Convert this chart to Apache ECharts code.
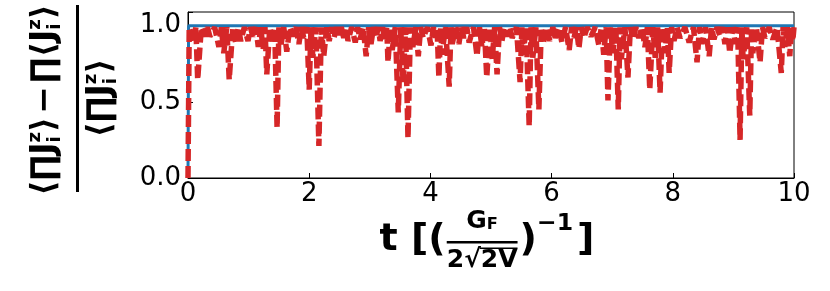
<!DOCTYPE html>
<html><head><meta charset="utf-8">
<script src="https://cdn.jsdelivr.net/npm/echarts@6/dist/echarts.min.js"></script>
<style>html,body{margin:0;padding:0;background:#fff}#c{width:830px;height:291px}</style>
</head><body><div id="c"></div>
<script>
const xTicks = [0, 2, 4, 6, 8, 10];
const yTicks = [0.0, 0.5, 1.0];
const blueCurve = [[0, 0], [0.01, 1.0], [10, 1.0]];
const redCurve = [
 [0,0],[0.02,0.99],[0.10,0.89],[0.13,0.99],[0.16,0.645],[0.22,0.99],[0.28,0.93],[0.32,0.99],[0.36,0.93],[0.44,0.99],
 [0.51,0.86],[0.55,0.99],[0.59,0.82],[0.64,0.99],[0.68,0.645],[0.74,0.99],[0.79,0.88],[0.83,0.99],[0.87,0.90],[0.93,0.99],
 [0.99,0.90],[1.03,0.99],[1.07,0.93],[1.12,0.99],[1.16,0.86],[1.20,0.99],[1.24,0.84],[1.27,0.99],[1.30,0.68],[1.35,0.99],
 [1.39,0.88],[1.43,0.99],[1.47,0.33],[1.50,0.99],[1.53,0.86],[1.58,0.99],[1.63,0.83],[1.68,0.99],[1.73,0.93],[1.78,0.99],
 [1.83,0.88],[1.87,0.99],[1.91,0.92],[1.96,0.99],[2.00,0.58],[2.03,0.99],[2.06,0.79],[2.11,0.99],[2.16,0.21],[2.20,0.99],
 [2.24,0.80],[2.29,0.99],[2.33,0.90],[2.37,0.99],[2.41,0.92],[2.45,0.99],[2.49,0.94],[2.53,0.99],[2.57,0.92],[2.61,0.99],
 [2.64,0.90],[2.70,0.99],[2.76,0.89],[2.80,0.99],[2.84,0.91],[2.89,0.99],[2.94,0.80],[2.98,0.99],[3.02,0.88],[3.06,0.99],
 [3.10,0.92],[3.14,0.99],[3.17,0.90],[3.21,0.99],[3.25,0.90],[3.28,0.99],[3.30,0.76],[3.34,0.99],[3.37,0.84],[3.42,0.99],
 [3.47,0.43],[3.51,0.99],[3.55,0.62],[3.59,0.99],[3.63,0.26],[3.67,0.99],[3.71,0.86],[3.76,0.99],[3.80,0.80],[3.84,0.99],
 [3.88,0.92],[3.95,0.99],[4.01,0.87],[4.05,0.99],[4.08,0.92],[4.11,0.99],[4.14,0.66],[4.17,0.99],[4.19,0.81],[4.25,0.99],
 [4.31,0.60],[4.34,0.99],[4.36,0.88],[4.42,0.99],[4.47,0.88],[4.51,0.99],[4.55,0.92],[4.60,0.99],[4.64,0.89],[4.71,0.99],
 [4.77,0.80],[4.81,0.99],[4.85,0.86],[4.89,0.99],[4.93,0.66],[4.98,0.99],[5.02,0.78],[5.06,0.99],[5.10,0.68],[5.14,0.99],
 [5.18,0.90],[5.22,0.99],[5.26,0.93],[5.31,0.99],[5.35,0.92],[5.42,0.99],[5.48,0.63],[5.51,0.99],[5.53,0.81],[5.58,0.99],
 [5.63,0.34],[5.66,0.99],[5.69,0.79],[5.74,0.99],[5.79,0.45],[5.83,0.99],[5.86,0.88],[5.92,0.99],[5.97,0.90],[6.02,0.99],
 [6.06,0.92],[6.12,0.99],[6.17,0.89],[6.23,0.99],[6.29,0.84],[6.33,0.99],[6.37,0.92],[6.41,0.99],[6.45,0.85],[6.49,0.99],
 [6.53,0.92],[6.59,0.99],[6.65,0.93],[6.72,0.99],[6.78,0.87],[6.82,0.99],[6.86,0.81],[6.90,0.99],[6.93,0.51],[6.97,0.99],
 [7.01,0.82],[7.06,0.99],[7.10,0.45],[7.13,0.99],[7.15,0.78],[7.21,0.99],[7.26,0.66],[7.30,0.99],[7.34,0.91],[7.39,0.99],
 [7.44,0.92],[7.49,0.99],[7.54,0.86],[7.58,0.99],[7.62,0.58],[7.67,0.99],[7.71,0.79],[7.75,0.99],[7.79,0.56],[7.83,0.99],
 [7.87,0.82],[7.91,0.99],[7.94,0.69],[7.98,0.99],[8.02,0.90],[8.07,0.99],[8.12,0.92],[8.20,0.99],[8.27,0.89],[8.34,0.99],
 [8.40,0.76],[8.44,0.99],[8.48,0.88],[8.54,0.99],[8.60,0.80],[8.64,0.99],[8.68,0.91],[8.73,0.99],[8.78,0.93],[8.82,0.99],
 [8.86,0.88],[8.90,0.99],[8.94,0.82],[8.99,0.99],[9.03,0.88],[9.07,0.99],[9.11,0.25],[9.14,0.99],[9.16,0.78],[9.22,0.99],
 [9.27,0.41],[9.30,0.99],[9.32,0.82],[9.38,0.99],[9.44,0.76],[9.48,0.99],[9.52,0.92],[9.59,0.99],[9.65,0.91],[9.72,0.99],
 [9.79,0.69],[9.82,0.99],[9.85,0.86],[9.89,0.99],[9.93,0.80],[9.96,0.99],[9.98,0.90],[10.0,0.99]
];

const FF = 'DejaVu Sans';
const mctx = document.createElement('canvas').getContext('2d');
function tw(text, size, weight) { mctx.font = weight + ' ' + size + 'px "' + FF + '"'; return mctx.measureText(text).width; }
function T(text, x, y, size, weight) {
  return { type: 'text', x: x, y: y, style: { text: text, fontSize: size, fontFamily: FF, fontWeight: weight, fill: '#000',
    align: 'left', verticalAlign: 'middle', textAlign: 'left', textVerticalAlign: 'middle' } };
}
function row(tokens) {
  let x = 0; const els = [];
  tokens.forEach(tk => {
    const wt = tk.w || 'bold';
    if (tk.gap !== undefined) { x += tk.gap; return; }
    if (tk.stack) {
      els.push(T(tk.stack[0], x, tk.dy[0], tk.s, wt));
      els.push(T(tk.stack[1], x, tk.dy[1], tk.s, wt));
      x += Math.max(tw(tk.stack[0], tk.s, wt), tw(tk.stack[1], tk.s, wt));
      return;
    }
    els.push(T(tk.t, x, tk.dy || 0, tk.s, wt));
    x += tw(tk.t, tk.s, wt);
  });
  els.forEach(e => { e.x -= x / 2; });
  return els;
}
// y-axis title (rotated fraction)
const S = 33, ss = S * 0.55;
const J = [{ t: 'J', s: S }, { stack: ['z', 'i'], s: ss, dy: [-S * 0.3, S * 0.3] }];
const numTokens = [{ t: '⟨', s: S }, { t: '∏', s: S }].concat(J, [{ t: '⟩', s: S }, { gap: 3 }, { t: '−', s: S }, { gap: 3 },
  { t: '∏', s: S }, { t: '⟨', s: S }], J, [{ t: '⟩', s: S }]);
const denTokens = [{ t: '⟨', s: S }, { t: '∏', s: S }].concat(J, [{ t: '⟩', s: S }]);

// x-axis title
function xTitle() {
  const B = 38, fs = 25; const els = []; let x = 0;
  els.push(T('t [(', x, 0, B, 'bold')); x += tw('t [(', B, 'bold') + 1;
  const den = '2√2V';
  const denW = tw(den, fs, 'bold');
  const gW = tw('G', fs, 'bold'), fW = tw('F', fs * 0.65, 'bold');
  const nx = x + (denW - gW - fW) / 2;
  els.push(T('G', nx, -19, fs, 'bold'));
  els.push(T('F', nx + gW, -15, fs * 0.65, 'bold'));
  els.push({ type: 'rect', shape: { x: x, y: 1, width: denW, height: 2.5 }, style: { fill: '#000' } });
  els.push(T(den, x, 20, fs, 'bold'));
  const ox = x + tw('2√', fs, 'bold');
  els.push({ type: 'rect', shape: { x: ox - 1, y: 20 - fs * 0.5, width: x + denW - ox + 1, height: 1.5 }, style: { fill: '#000' } });
  x += denW + 2;
  els.push(T(')', x, 0, B, 'bold')); x += tw(')', B, 'bold');
  els.push(T('−1', x, -16, B * 0.62, 'bold')); x += tw('−1', B * 0.62, 'bold') + 4;
  els.push(T(']', x, 0, B, 'bold')); x += tw(']', B, 'bold');
  els.forEach(e => { if (e.type === 'rect') e.shape.x -= x / 2; else e.x -= x / 2; });
  return els;
}

const chart = echarts.init(document.getElementById('c'), null, { renderer: 'canvas' });
const near = (v, arr) => arr.some(a => Math.abs(a - v) < 1e-9);
chart.setOption({
  animation: false,
  grid: { left: 188, right: 36, top: 12, bottom: 113, show: true, borderColor: '#000', borderWidth: 1, backgroundColor: 'transparent' },
  xAxis: { type: 'value', min: 0, max: 10, interval: 2,
    axisLine: { show: true, onZero: false, lineStyle: { color: '#000', width: 1 } },
    axisTick: { show: true, inside: true, length: 5, lineStyle: { color: '#000' } },
    splitLine: { show: false },
    axisLabel: { fontSize: 26, color: '#000', fontFamily: FF, margin: 3, formatter: v => near(v, xTicks) ? String(v) : '' } },
  yAxis: { type: 'value', min: 0, max: 1.09, interval: 0.5,
    axisLine: { show: true, lineStyle: { color: '#000', width: 1 } },
    axisTick: { show: true, inside: true, length: 5, lineStyle: { color: '#000' } },
    splitLine: { show: false },
    axisLabel: { fontSize: 26, color: '#000', fontFamily: FF, margin: 7, formatter: v => near(v, yTicks) ? v.toFixed(1) : '' } },
  series: [
    { type: 'line', data: blueCurve, symbol: 'none', lineStyle: { color: '#1f77b4', width: 3 }, z: 2 },
    { type: 'line', data: redCurve, symbol: 'none', lineStyle: { color: '#d62728', width: 5.5, type: [12, 5] }, z: 3 }
  ],
  graphic: [
    { type: 'group', x: 45, y: 100, rotation: Math.PI / 2, children: row(numTokens) },
    { type: 'group', x: 101, y: 98, rotation: Math.PI / 2, children: row(denTokens) },
    { type: 'rect', shape: { x: 76, y: 5, width: 3, height: 187 }, style: { fill: '#000' } },
    { type: 'group', x: 487, y: 240, children: xTitle() }
  ]
});
</script>
</body></html>
